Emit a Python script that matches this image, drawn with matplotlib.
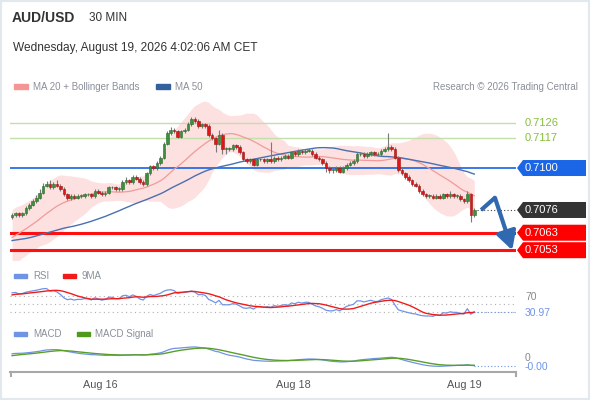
import numpy as np
import pandas as pd
import matplotlib
matplotlib.use("Agg")
import matplotlib.pyplot as plt
from matplotlib.patches import Rectangle, Polygon

plt.rcParams['font.family'] = ['Liberation Sans', 'DejaVu Sans']

# ---- data ----
pair = "AUD/USD"
period = "30 MIN"
stamp = "Wednesday, August 19, 2026 4:02:06 AM CET"

# closes before the visible window (only feed the indicators)
pre_closes = [0.7057, 0.7059, 0.7058, 0.7060, 0.7061, 0.7059, 0.7057, 0.7056, 0.7058, 0.7060,
              0.7062, 0.7061, 0.7063, 0.7062, 0.7060, 0.7061, 0.7063, 0.7064, 0.7062, 0.7061,
              0.7058, 0.7057, 0.7055, 0.7054, 0.7053, 0.7052, 0.7051, 0.7050, 0.7049, 0.7048,
              0.7047, 0.7049, 0.7048, 0.7050, 0.7052, 0.7051, 0.7054, 0.7056, 0.7055, 0.7058,
              0.7060, 0.7062, 0.7061, 0.7064, 0.7066, 0.7065, 0.7068, 0.7070, 0.7071, 0.7072]

closes = [0.7073, 0.7074, 0.7073, 0.7074, 0.7077, 0.7079, 0.7081, 0.7083, 0.7086, 0.7090,
          0.7091, 0.7089, 0.7091, 0.7090, 0.7088, 0.7085, 0.7083, 0.7084, 0.7083, 0.7084,
          0.7084, 0.7085, 0.7085, 0.7084, 0.7087, 0.7086, 0.7085, 0.7086, 0.7089, 0.7089,
          0.7088, 0.7088, 0.7092, 0.7093, 0.7092, 0.7095, 0.7094, 0.7092, 0.7091, 0.7097,
          0.7101, 0.7100, 0.7103, 0.7106, 0.7114, 0.7120, 0.7122, 0.7121, 0.7118, 0.7121,
          0.7122, 0.7125, 0.7128, 0.7127, 0.7124, 0.7125, 0.7124, 0.7119, 0.7117, 0.7114,
          0.7119, 0.7111, 0.7111, 0.7111, 0.7113, 0.7112, 0.7109, 0.7105, 0.7104, 0.7105,
          0.7102, 0.7105, 0.7105, 0.7104, 0.7105, 0.7104, 0.7106, 0.7105, 0.7106, 0.7107,
          0.7106, 0.7109, 0.7108, 0.7110, 0.7109, 0.7110, 0.7110, 0.7108, 0.7106, 0.7105,
          0.7103, 0.7100, 0.7099, 0.7099, 0.7100, 0.7098, 0.7100, 0.7102, 0.7103, 0.7104,
          0.7108, 0.7108, 0.7107, 0.7108, 0.7109, 0.7108, 0.7108, 0.7110, 0.7111, 0.7112,
          0.7111, 0.7106, 0.7099, 0.7097, 0.7095, 0.7093, 0.7091, 0.7090, 0.7087, 0.7085,
          0.7084, 0.7084, 0.7083, 0.7084, 0.7083, 0.7085, 0.7084, 0.7085, 0.7084, 0.7084,
          0.7082, 0.7081, 0.7085, 0.7073, 0.7076]

# wick lengths in pips beyond the body
wick_up = [1, 1, 1, 1, 1, 1, 1.5, 1.5, 2, 1.5,
           1.5, 2, 1, 2, 1, 1, 1, 1, 1, 1,
           1, 1, 1, 1, 1, 1, 1, 1, 1, 1,
           1, 1, 1, 2, 1, 1, 1, 1, 1, 1,
           1, 1, 1, 1, 1, 1, 1.5, 1, 1, 1,
           1, 1.5, 1, 1, 1, 1, 1, 1, 1, 1,
           3, 1, 1, 1, 1, 1, 1, 1, 1, 1,
           1, 1, 1, 1, 1, 10, 1, 1, 1, 1,
           1, 1, 1, 1, 1, 1, 1.5, 1, 1, 1,
           1, 1, 1, 1, 1, 1, 1, 1, 1, 1,
           1, 1, 1, 1, 1, 1, 1, 1, 1, 8,
           1, 1, 1, 1, 1, 1, 1, 1, 1, 1,
           1, 1, 1, 1, 1, 1, 1, 2, 1, 1,
           1, 1, 2, 1, 1]
wick_lo = [1, 1, 1, 1, 1, 1, 1, 1, 1, 1,
           1, 1, 1, 1, 1, 1, 1.5, 1.5, 1, 1,
           1, 1, 1, 1, 1, 1, 1, 1, 1, 1,
           1, 1, 1, 1, 1, 1, 1, 1, 1, 1,
           1, 1, 1, 1, 1, 1, 1, 1, 1, 1,
           1, 1, 1, 1, 1, 1, 1, 1, 1, 5,
           1, 3, 3, 1, 1, 1, 1, 1, 1, 1,
           1, 1, 1, 1, 1, 1, 1, 1, 1, 1,
           1, 1, 1, 1, 1, 1, 1, 1, 1, 1,
           1, 2, 2, 2, 1, 1, 1, 1, 1, 1,
           1, 1, 1, 1, 1, 1, 1, 1, 1, 1,
           1, 1, 1, 1, 1, 1, 1, 1, 1, 1,
           1, 1, 1, 1, 1, 1, 1, 1, 1, 1,
           1, 1, 1, 4, 1]

resist_levels = [0.7126, 0.7117]
pivot_level = 0.7100
last_label = "0.7076"
support_levels = [0.7063, 0.7053]
forecast_steps = [2, 6, 11]
forecast_prices = [0.7076, 0.7083, 0.7053]

day_ticks = [25.5, 81.5, 131]
day_labels = ["Aug 16", "Aug 18", "Aug 19"]
rsi_label = "30.97"
macd_label = "-0.00"

# ---- indicators ----
allc = pd.Series(pre_closes + closes)
n0 = len(pre_closes)
ma20 = allc.rolling(20).mean()
sd20 = allc.rolling(20).std(ddof=0)
ma50 = allc.rolling(50, min_periods=1).mean()
delta = allc.diff()
gain = delta.clip(lower=0).ewm(alpha=1/14, adjust=False).mean()
loss = (-delta.clip(upper=0)).ewm(alpha=1/14, adjust=False).mean()
rsi = 100 - 100 / (1 + gain / loss)
rsi_ma = rsi.rolling(9).mean()
macd = allc.ewm(span=12).mean() - allc.ewm(span=26).mean()
signal = macd.ewm(span=9).mean()

idx = np.arange(len(closes))
c = np.array(closes)
o = np.array([pre_closes[-1]] + closes[:-1])
hi = np.maximum(o, c) + np.array(wick_up) * 0.0001
lo = np.minimum(o, c) - np.array(wick_lo) * 0.0001

# ---- figure ----
W, H = 590, 400
fig = plt.figure(figsize=(W / 100, H / 100), dpi=100)
fig.patch.set_facecolor('white')

def box(x0, y0, x1, y1):
    return [x0 / W, 1 - y1 / H, (x1 - x0) / W, (y1 - y0) / H]

XL = (-0.6, 146.1)
ax = fig.add_axes(box(10, 100, 516, 260))
ax.set_xlim(*XL)
ax.set_ylim(0.70474, 0.71389)
ax.axis('off')

v = slice(n0, None)
ax.fill_between(idx, (ma20 + 2 * sd20)[v], (ma20 - 2 * sd20)[v], color='#fde0e0', lw=0, zorder=1)
for lv in resist_levels:
    ax.axhline(lv, color='#c3dfaa', lw=1, zorder=2)
ax.axhline(pivot_level, color='#1763e6', lw=1.2, zorder=2)
for lv in support_levels:
    ax.axhline(lv, color='#ff1010', lw=2.2, zorder=2)
ax.plot(idx, ma20[v], color='#f29a9a', lw=0.9, zorder=3)
ax.plot(idx, ma50[v], color='#4a70b0', lw=1.0, zorder=3)

up = c >= o
ax.vlines(idx, lo, hi, color='#7a7a7a', lw=0.8, zorder=4)
body = np.maximum(np.abs(c - o), 0.00003)
ax.bar(idx[up], body[up], bottom=np.minimum(o, c)[up], width=0.75,
       color='#3d8f3d', edgecolor='#2a6a2a', lw=0.4, zorder=5)
ax.bar(idx[~up], body[~up], bottom=np.minimum(o, c)[~up], width=0.75,
       color='#e01515', edgecolor='#a01010', lw=0.4, zorder=5)

# dotted link from the last close to its label
ax.plot([idx[-1] + 0.8, XL[1]], [c[-1], c[-1]], ls=(0, (1, 2)), color='#444', lw=0.8,
        clip_on=False, zorder=3)

# forecast arrow
fx = [idx[-1] + s for s in forecast_steps]
ax.plot(fx[:2], forecast_prices[:2], color='#3169b0', lw=3, solid_capstyle='butt', zorder=6,
        clip_on=False)
ax.annotate('', xy=(fx[2], forecast_prices[2]), xytext=(fx[1], forecast_prices[1]),
            arrowprops=dict(arrowstyle='-|>,head_width=0.6,head_length=1.1', lw=3,
                            color='#3169b0', shrinkA=0, shrinkB=0), zorder=6,
            annotation_clip=False)

# ---- RSI panel ----
ar = fig.add_axes(box(10, 284, 516, 320), sharex=ax)
ar.set_ylim(10, 100)
ar.axis('off')
for lv in (70, 50, 30):
    ar.axhline(lv, color='#b0b0b0', lw=0.8, ls=(0, (1, 3)))
ar.plot(idx, rsi[v], color='#6f94e6', lw=0.9)
ar.plot(idx, rsi_ma[v], color='#f01c1c', lw=1.0)
ar.plot([idx[-1], XL[1]], [30.97, 30.97], color='#6f94e6', lw=0.8, ls=(0, (1, 2)), clip_on=False)

# ---- MACD panel ----
am = fig.add_axes(box(10, 340, 516, 372), sharex=ax)
am.set_ylim(-0.00108, 0.00158)
for s in ('top', 'right', 'left'):
    am.spines[s].set_visible(False)
am.spines['bottom'].set_color('#a8a8a8')
am.spines['bottom'].set_linewidth(1.5)
am.set_yticks([])
am.set_xticks(day_ticks)
am.set_xticklabels(day_labels, fontsize=7.8, color='#555555')
am.tick_params(axis='x', length=0, pad=6)
am.plot(idx, macd[v], color='#6f94e6', lw=0.9)
am.plot(idx, signal[v], color='#5a9e2a', lw=1.0)
am.plot([idx[-1], XL[1]], [macd.iloc[-1]] * 2, color='#6f94e6', lw=0.8, ls=(0, (1, 2)),
        clip_on=False)

# ---- overlay in pixel coordinates for labels ----
ov = fig.add_axes([0, 0, 1, 1], zorder=10)
ov.set_xlim(0, W)
ov.set_ylim(H, 0)
ov.axis('off')

def py(axes, val):
    y0, y1 = axes.get_ylim()
    b = axes.get_position()
    top = (1 - b.y1) * H
    return top + (y1 - val) / (y1 - y0) * b.height * H

ov.plot([11, 11], [372, 376], color='#a8a8a8', lw=1.5)
ov.plot([516, 516], [372, 376], color='#a8a8a8', lw=1.5)

ov.text(12, 18, pair, fontsize=10, fontweight='bold', color='#333333', va='center')
ov.text(89, 18, period, fontsize=8.5, color='#333333', va='center')
ov.text(13, 48, stamp, fontsize=8.6, color='#333333', va='center')

gray = '#8a8f99'
ov.add_patch(Rectangle((14, 84), 14, 5, color='#f59595'))
ov.text(33, 86.5, "MA 20 + Bollinger Bands", fontsize=7, color=gray, va='center')
ov.add_patch(Rectangle((156, 84), 14, 5, color='#34609e'))
ov.text(175, 86.5, "MA 50", fontsize=7, color=gray, va='center')
ov.text(578, 86.5, "Research \u00a9 2026 Trading Central", fontsize=7, color=gray,
        va='center', ha='right')

ov.add_patch(Rectangle((14, 274), 13, 4, color='#6f94e6'))
ov.text(33, 276, "RSI", fontsize=7, color=gray, va='center')
ov.add_patch(Rectangle((63, 274), 13, 4, color='#f01c1c'))
ov.text(82, 276, "9MA", fontsize=7, color=gray, va='center')
ov.add_patch(Rectangle((14, 332), 13, 4, color='#6f94e6'))
ov.text(33, 334, "MACD", fontsize=7, color=gray, va='center')
ov.add_patch(Rectangle((77, 332), 13, 4, color='#4f9a1c'))
ov.text(95, 334, "MACD Signal", fontsize=7, color=gray, va='center')

for lv in resist_levels:
    ov.text(525, py(ax, lv), f"{lv:.4f}", fontsize=8, color='#86bf3c', va='center')

def tag(yc, label, color):
    ov.add_patch(Polygon([(517, yc), (523, yc - 8), (586, yc - 8), (586, yc + 8), (523, yc + 8)],
                         closed=True, color=color, lw=0))
    ov.text(525, yc, label, fontsize=8, color='white', va='center')

tag(py(ax, pivot_level), f"{pivot_level:.4f}", '#1a66e6')
tag(py(ax, c[-1]), last_label, '#333333')
for lv in support_levels:
    tag(py(ax, lv), f"{lv:.4f}", '#ff0000')

ov.text(525, py(ar, 70) + 1, "70", fontsize=7.5, color='#888888', va='center')
ov.text(525, py(ar, 30.97) + 1, rsi_label, fontsize=7.5, color='#6f94e6', va='center')
ov.text(525, py(am, 0) - 1, "0", fontsize=7.5, color='#888888', va='center')
ov.text(525, py(am, macd.iloc[-1]) + 1, macd_label, fontsize=7.5, color='#6f94e6', va='center')

fig.patches.append(Rectangle((0, 0), 1, 1, transform=fig.transFigure, fill=False,
                             ec='#e3e8ee', lw=3))

fig.savefig('out.png', dpi=100)
